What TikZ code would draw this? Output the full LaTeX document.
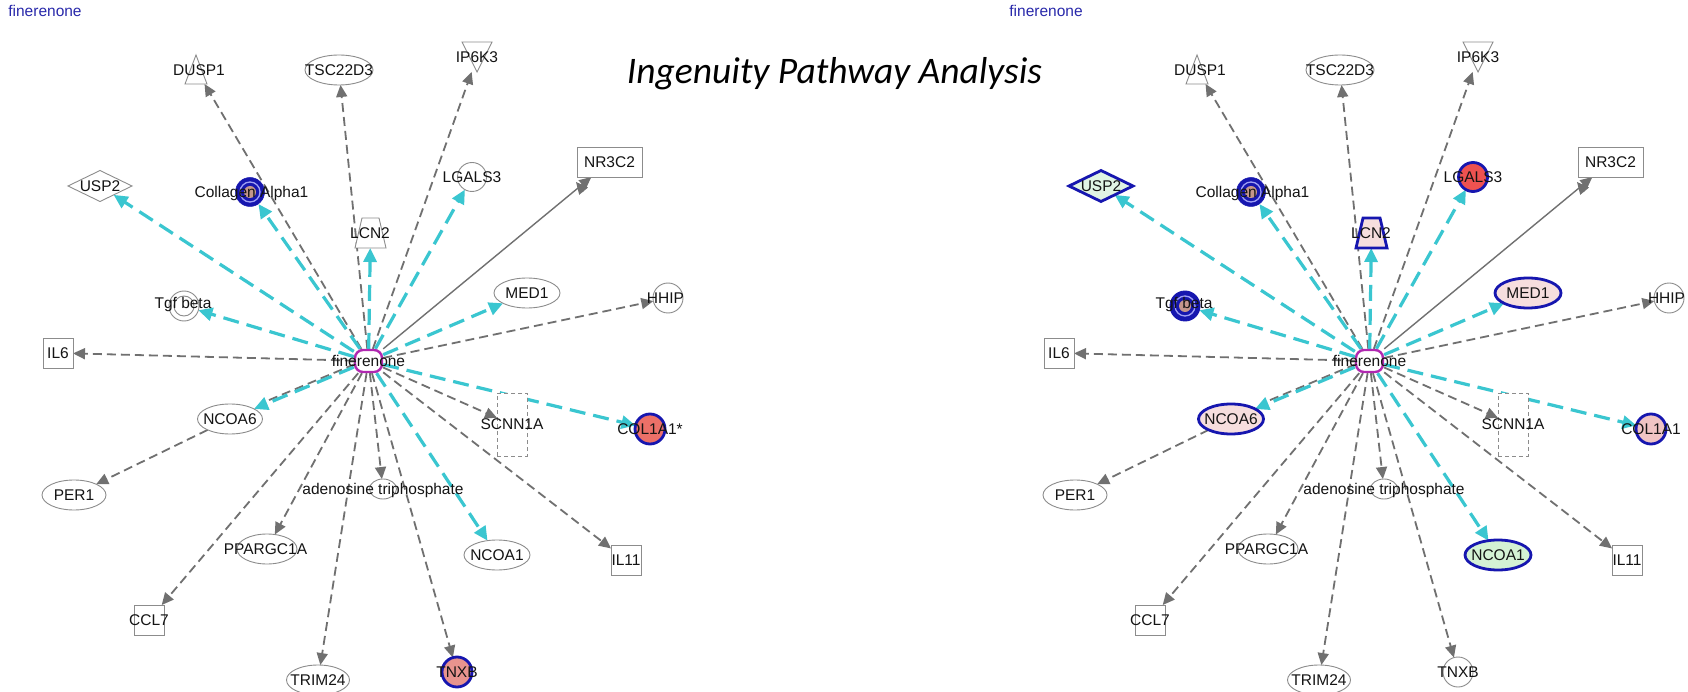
\documentclass[tikz,border=0pt]{standalone}
\usepackage{fontspec}
\setmainfont{Liberation Sans}
\newfontfamily\calib{Carlito}
\usetikzlibrary{shapes.geometric,arrows.meta,decorations.markings}
\pgfdeclarelayer{bg}\pgfdeclarelayer{edges}\pgfdeclarelayer{labels}
\pgfsetlayers{bg,edges,main,labels}
\definecolor{ipacyan}{RGB}{58,198,208}
\definecolor{edgegray}{RGB}{112,112,112}
\definecolor{nodegray}{RGB}{140,140,140}
\definecolor{ipablue}{RGB}{22,22,175}
\definecolor{lav}{RGB}{160,160,245}
\definecolor{brownc}{RGB}{196,150,140}
\definecolor{finmag}{RGB}{176,40,176}
\definecolor{titleblue}{RGB}{40,40,170}
\definecolor{pinkL}{RGB}{246,222,222}
\definecolor{lgreen}{RGB}{224,244,228}
\definecolor{greenL}{RGB}{212,242,212}
\definecolor{redL}{RGB}{238,82,80}
\definecolor{salA}{RGB}{232,148,142}
\definecolor{salB}{RGB}{236,112,104}
\definecolor{pinkC}{RGB}{240,196,196}
\tikzset{
  shp/.style={inner sep=0pt, outer sep=0pt, draw=nodegray, line width=0.9pt, fill=white},
  shpline/.style={draw=nodegray, line width=0.9pt, fill=white, line join=miter},
  box0/.style={inner sep=0pt, outer sep=0pt, draw=none, rectangle},
  hi/.style={draw=ipablue, line width=2.8pt},
  fin/.style={inner sep=0pt, rectangle, rounded corners=8pt, draw=finmag, line width=2.4pt, fill=white, minimum width=27pt, minimum height=22pt},
  bdo/.style={circle, inner sep=0pt, minimum size=29pt, fill=ipablue, draw=ipablue, line width=0.5pt},
  bdi/.style={circle, inner sep=0pt, minimum size=20pt, draw=lav, line width=1.3pt, fill=ipablue},
  bdc/.style={circle, inner sep=0pt, minimum size=12pt, fill=brownc},
  lbl/.style={anchor=base, yshift=-5.5pt, inner sep=0pt, font=\fontsize{15.5pt}{16pt}\selectfont, text=black!92},
  ttl/.style={anchor=base, inner sep=0pt, font=\fontsize{15.5pt}{16pt}\selectfont, text=titleblue},
  gedge/.style={draw=edgegray, line width=1.8pt, dash pattern=on 9pt off 5pt, -{Triangle[length=12pt,width=11pt]}},
  cedge/.style={draw=ipacyan, line width=3.2pt, dash pattern=on 16pt off 8pt, -{Triangle[length=14pt,width=13pt]}},
  sedge/.style={draw=edgegray, line width=1.4pt, -{Triangle[length=12pt,width=11pt]},
    postaction={decorate, decoration={markings, mark=at position -15pt with {\draw[edgegray, line width=1.4pt] (0pt,-6pt) -- (0pt,6pt);}}}},
  usp2/.style={}, lcn2/.style={}, lgals3/.style={}, med1/.style={}, ncoa6/.style={},
  ncoa1/.style={}, col1a1/.style={}, tnxb/.style={},
  tgfo/.style={}, tgfi/.style={fill=none}, tgfc/.style={draw=none, fill=none, minimum size=0pt},
}
\newcommand\ipapanel[2]{%
  \node[fin] (#1fin) at (368.5,361) {};
  \node[box0, minimum width=22pt, minimum height=29pt] (#1dusp) at (196,69.5) {};
  \draw[shpline] (#1dusp.south west) -- (#1dusp.south east) -- (#1dusp.north) -- cycle;
  \node[shp, ellipse, minimum width=68pt, minimum height=30pt] (#1tsc) at (339,70) {};
  \node[box0, minimum width=30pt, minimum height=30pt] (#1ip6) at (477,57) {};
  \draw[shpline] (#1ip6.north west) -- (#1ip6.north east) -- (#1ip6.south) -- cycle;
  \node[shp, rectangle, minimum width=65pt, minimum height=30pt] (#1nr) at (609.5,162) {};
  \node[shp, diamond, minimum width=64pt, minimum height=31pt, usp2] (#1usp) at (100,186) {};
  \node[bdo] (#1col) at (250,192) {};
  \node[bdi] at (#1col) {};
  \node[bdc] at (#1col) {};
  \node[shp, circle, minimum size=29pt, lgals3] (#1lgal) at (472,177) {};
  \node[box0, minimum width=31pt, minimum height=30pt] (#1lcn) at (370.5,233) {};
  \draw[shpline, lcn2] (#1lcn.south west) -- (#1lcn.south east) -- ([xshift=-7pt]#1lcn.north east) -- ([xshift=7pt]#1lcn.north west) -- cycle;
  \node[shp, circle, minimum size=30pt, tgfo] (#1tgf) at (184,306) {};
  \node[shp, circle, minimum size=20pt, tgfi] at (#1tgf) {};
  \node[circle, inner sep=0pt, tgfc] at (#1tgf) {};
  \node[shp, ellipse, minimum width=66pt, minimum height=30pt, med1] (#1med) at (527,293) {};
  \node[shp, circle, minimum size=30pt] (#1hhip) at (668,298) {};
  \node[shp, rectangle, minimum width=30pt, minimum height=30pt] (#1il6) at (58,353) {};
  \node[shp, ellipse, minimum width=65pt, minimum height=30pt, ncoa6] (#1ncoa6) at (230,419) {};
  \node[shp, rectangle, dash pattern=on 4pt off 3pt, minimum width=30pt, minimum height=63pt] (#1scnn) at (512,424.5) {};
  \node[shp, circle, minimum size=30pt, col1a1] (#1col1) at (650,429) {};
  \node[shp, ellipse, minimum width=64pt, minimum height=30pt] (#1per) at (74,495) {};
  \node[shp, ellipse, minimum width=27pt, minimum height=20pt] (#1atp) at (383,489) {};
  \node[shp, ellipse, minimum width=60pt, minimum height=30pt] (#1ppar) at (267,549) {};
  \node[shp, ellipse, minimum width=66pt, minimum height=30pt, ncoa1] (#1ncoa1) at (497,555) {};
  \node[shp, rectangle, minimum width=30pt, minimum height=30pt] (#1il11) at (626,560) {};
  \node[shp, rectangle, minimum width=30pt, minimum height=30pt] (#1ccl) at (149,620) {};
  \node[shp, ellipse, minimum width=63pt, minimum height=30pt] (#1trim) at (318,680) {};
  \node[shp, circle, minimum size=30pt, tnxb] (#1tnxb) at (457,672) {};
  \begin{pgfonlayer}{edges}
    \draw[gedge] (#1fin) -- (#1dusp);
    \draw[gedge] (#1fin) -- (#1tsc);
    \draw[gedge] (#1fin) -- (#1ip6);
    \draw[cedge] (#1fin) -- (#1usp);
    \draw[cedge] (#1fin) -- (#1col);
    \draw[cedge] (#1fin) -- (#1lcn);
    \draw[cedge] (#1fin) -- (#1lgal);
    \draw[sedge] (#1fin) -- (#1nr);
    \draw[cedge] (#1fin) -- (#1tgf);
    \draw[cedge] (#1fin) -- (#1med);
    \draw[gedge] (#1fin) -- (#1hhip);
    \draw[gedge] (#1fin) -- (#1il6);
    \draw[draw=edgegray, line width=1.8pt, dash pattern=on 9pt off 5pt, shorten >=10pt, transform canvas={shift={(1pt,3pt)}}] (#1fin) -- (#1ncoa6);
    \draw[cedge] (#1fin) -- (#1ncoa6);
    \draw[gedge] (#1fin) -- (#1scnn);
    \draw[cedge] (#1fin) -- (#1col1);
    \draw[gedge] (#1ncoa6) -- (#1per);
    \draw[gedge] (#1fin) -- (#1atp);
    \draw[gedge] (#1fin) -- (#1ppar);
    \draw[cedge] (#1fin) -- (#1ncoa1);
    \draw[gedge] (#1fin) -- (#1il11);
    \draw[gedge] (#1fin) -- (#1ccl);
    \draw[gedge] (#1fin) -- (#1trim);
    \draw[gedge] (#1fin) -- (#1tnxb);
  \end{pgfonlayer}
  \begin{pgfonlayer}{labels}
    \node[ttl] (#1title) at (45,17) {finerenone};
    \node[lbl] (#1tdusp) at (199,70) {DUSP1};
    \node[lbl] (#1ttsc) at (339,70) {TSC22D3};
    \node[lbl] (#1tip6) at (477,57) {IP6K3};
    \node[lbl] (#1tnr) at (609.5,162) {NR3C2};
    \node[lbl] (#1tusp) at (100,186) {USP2};
    \node[lbl] (#1tcol) at (251.5,192) {Collagen Alpha1};
    \node[lbl] (#1tlgal) at (472,177) {LGALS3};
    \node[lbl] (#1tlcn) at (370,233) {LCN2};
    \node[lbl] (#1ttgf) at (183,303) {Tgf beta};
    \node[lbl] (#1tmed) at (527,293) {MED1};
    \node[lbl] (#1thhip) at (665.5,298) {HHIP};
    \node[lbl] (#1til6) at (58,353) {IL6};
    \node[lbl] (#1tfin) at (368.5,361) {finerenone};
    \node[lbl] (#1tncoa6) at (230,419) {NCOA6};
    \node[lbl] (#1tscnn) at (512,424) {SCNN1A};
    \node[lbl] (#1tcol1) at (650,429) {#2};
    \node[lbl] (#1tper) at (74,495) {PER1};
    \node[lbl] (#1tatp) at (383,489) {adenosine triphosphate};
    \node[lbl] (#1tppar) at (265.5,549) {PPARGC1A};
    \node[lbl] (#1tncoa1) at (497,555) {NCOA1};
    \node[lbl] (#1til11) at (626,560) {IL11};
    \node[lbl] (#1tccl) at (149,620) {CCL7};
    \node[lbl] (#1ttrim) at (318,680) {TRIM24};
    \node[lbl] (#1ttnxb) at (457,672) {TNXB};
  \end{pgfonlayer}
}
\begin{document}
\begin{tikzpicture}[x=1pt, y=-1pt]
  \begin{pgfonlayer}{bg}
    \fill[white] (0,0) rectangle (1688,692);
  \end{pgfonlayer}
  \useasboundingbox (0,0) rectangle (1688,692);
  \begin{scope}[tnxb/.style={hi, fill=salA}, col1a1/.style={hi, fill=salB}]
    \ipapanel{L}{COL1A1*}
  \end{scope}
  \begin{scope}[xshift=1001pt,
      usp2/.style={hi, fill=lgreen}, lcn2/.style={hi, fill=pinkL},
      lgals3/.style={hi, fill=redL}, med1/.style={hi, fill=pinkL},
      ncoa6/.style={hi, fill=pinkL}, ncoa1/.style={hi, fill=greenL},
      col1a1/.style={hi, fill=pinkC},
      tgfo/.style={fill=ipablue, draw=ipablue}, tgfi/.style={draw=lav, line width=1.3pt, fill=ipablue},
      tgfc/.style={fill=brownc, minimum size=12pt}]
    \ipapanel{R}{COL1A1}
  \end{scope}
  \node[anchor=base, inner sep=0pt, font=\calib\itshape\fontsize{37.5pt}{38pt}\selectfont] (ipa) at (834.5,84) {Ingenuity Pathway Analysis};
\end{tikzpicture}
\end{document}
